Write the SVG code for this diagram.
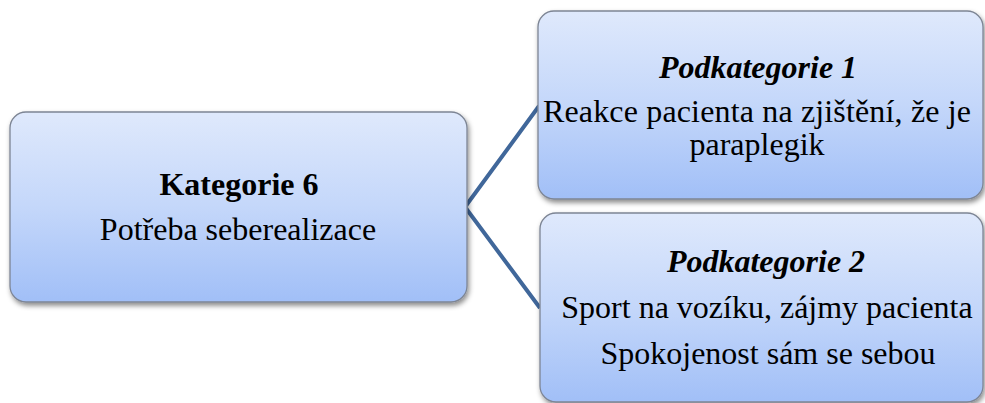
<svg xmlns="http://www.w3.org/2000/svg" width="985" height="403" viewBox="0 0 985 403">
  <defs>
    <linearGradient id="boxFill" x1="0" y1="0" x2="0" y2="1">
      <stop offset="0" stop-color="#dfe9fc"/>
      <stop offset="0.5" stop-color="#c4d7fa"/>
      <stop offset="1" stop-color="#a1bff7"/>
    </linearGradient>
    <filter id="shadow" x="-10%" y="-10%" width="120%" height="130%">
      <feDropShadow dx="1.5" dy="3" stdDeviation="2.5" flood-color="#000" flood-opacity="0.45"/>
    </filter>
  </defs>
  <style>
    .box { fill: url(#boxFill); stroke: #7d8594; stroke-width: 1.3; filter: url(#shadow); }
    .link { fill: none; stroke: #40679a; stroke-width: 4; stroke-linejoin: miter; }
    .label { font-family: 'Liberation Serif', 'DejaVu Serif', serif; fill: #000; text-anchor: middle; font-size: 32px; }
    .head { font-weight: bold; }
    .sub { font-weight: bold; font-style: italic; }
  </style>

  <g id="connectors">
    <polyline class="link" points="539,106 465,207 540,308"/>
  </g>

  <g id="kategorie6" class="label">
    <rect class="box" x="10" y="112" width="457" height="190" rx="16" ry="16"/>
    <text class="head" x="239" y="195">Kategorie 6</text>
    <text x="238" y="240">Potřeba seberealizace</text>
  </g>

  <g id="podkategorie1" class="label">
    <rect class="box" x="538" y="11" width="445" height="188" rx="16" ry="16"/>
    <text class="sub" x="758" y="78">Podkategorie 1</text>
    <text x="757" y="122" textLength="428" lengthAdjust="spacing">Reakce pacienta na zjištění, že je</text>
    <text x="757" y="155">paraplegik</text>
  </g>

  <g id="podkategorie2" class="label">
    <rect class="box" x="540" y="213" width="443" height="189" rx="16" ry="16"/>
    <text class="sub" x="766" y="272">Podkategorie 2</text>
    <text x="767" y="318">Sport na vozíku, zájmy pacienta</text>
    <text x="768" y="364">Spokojenost sám se sebou</text>
  </g>
</svg>
